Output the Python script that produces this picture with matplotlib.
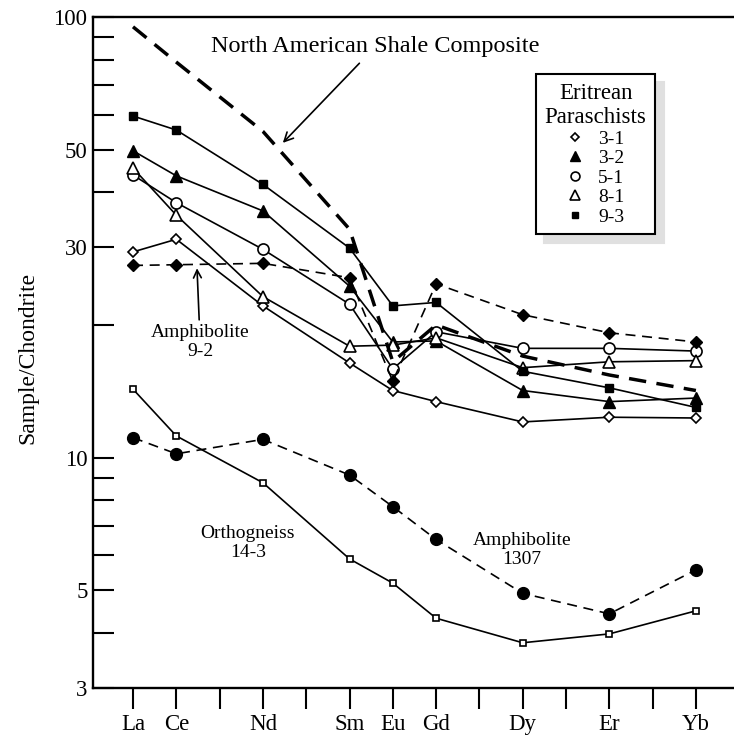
import matplotlib.pyplot as plt
import numpy as np

plt.rcParams['font.family'] = ['Liberation Serif', 'DejaVu Serif']

# REE order (x position = index), labelled ones only get text
elements = ["La", "Ce", "Pr", "Nd", "Pm", "Sm", "Eu", "Gd", "Tb", "Dy", "Ho", "Er", "Tm", "Yb"]
labelled = ["La", "Ce", "Nd", "Sm", "Eu", "Gd", "Dy", "Er", "Yb"]
plotted = ["La", "Ce", "Nd", "Sm", "Eu", "Gd", "Dy", "Er", "Yb"]

# chondrite-normalised values
nasc = [95, 79, 55, 33, 16.5, 20.0, 17.0, 15.4, 14.2]
s3_1 = [29.3, 31.3, 22.1, 16.4, 14.2, 13.4, 12.05, 12.35, 12.3]
s3_2 = [49.7, 43.6, 36.3, 24.5, 18.3, 18.4, 14.2, 13.4, 13.65]
s5_1 = [43.8, 37.9, 29.7, 22.3, 15.9, 19.3, 17.7, 17.7, 17.45]
s8_1 = [45.4, 35.5, 23.2, 17.9, 18.0, 18.7, 16.0, 16.5, 16.6]
s9_3 = [59.6, 55.4, 41.7, 29.9, 22.1, 22.5, 15.7, 14.4, 13.0]
amph_9_2 = [27.3, 27.4, 27.6, 25.6, 14.9, 24.8, 21.1, 19.2, 18.3]
ortho_14_3 = [14.3, 11.2, 8.77, 5.89, 5.19, 4.32, 3.80, 3.98, 4.49]
amph_1307 = [11.1, 10.2, 11.0, 9.13, 7.74, 6.52, 4.92, 4.42, 5.56]

x = np.array([elements.index(e) for e in plotted])

fig = plt.figure(figsize=(7.34, 7.40), dpi=100)
ax = fig.add_axes([93 / 734, 52 / 740, 641 / 734, 671 / 740])

lw = 1.2
# paraschists (legend entries)
ax.plot(x, s3_1, '-', color='black', lw=lw, marker='D', ms=5, mfc='white', mec='black', mew=1.2, label='3-1')
ax.plot(x, s3_2, '-', color='black', lw=lw, marker='^', ms=8.5, mfc='black', mec='black', label='3-2')
ax.plot(x, s5_1, '-', color='black', lw=lw, marker='o', ms=8, mfc='white', mec='black', mew=1.2, label='5-1')
ax.plot(x, s8_1, '-', color='black', lw=lw, marker='^', ms=8.5, mfc='white', mec='black', mew=1.2, label='8-1')
ax.plot(x, s9_3, '-', color='black', lw=lw, marker='s', ms=6, mfc='black', mec='black', label='9-3')

# other samples
ax.plot(x, amph_9_2, color='black', lw=lw, ls=(0, (6, 4)), marker='D', ms=6, mfc='black', mec='black')
ax.plot(x, ortho_14_3, '-', color='black', lw=lw, marker='s', ms=5, mfc='white', mec='black', mew=1.2)
ax.plot(x, amph_1307, color='black', lw=lw, ls=(0, (6, 4)), marker='o', ms=8.5, mfc='black', mec='black')
ax.plot(x, nasc, color='black', lw=2.5, ls=(0, (5, 3)))

ax.set_yscale('log')
ax.set_ylim(3, 100)
ax.set_xlim(-0.924, 13.88)

ax.set_yticks([3, 4, 5, 6, 7, 8, 9, 10, 20, 30, 40, 50, 60, 70, 80, 90, 100])
ax.set_yticklabels(['3', '', '5', '', '', '', '', '10', '', '30', '', '50', '', '', '', '', '100'])
ax.yaxis.set_minor_locator(plt.NullLocator())
ax.tick_params(axis='y', direction='in', length=15, width=1.5, labelsize=16.5, pad=4)

ax.set_xticks(range(len(elements)))
ax.set_xticklabels([e if e in labelled else '' for e in elements])
ax.tick_params(axis='x', direction='out', length=15, width=1.5, labelsize=16.5, pad=4)

for side in ['left', 'top', 'bottom']:
    ax.spines[side].set_linewidth(1.7)
ax.spines['right'].set_visible(False)

fig.text(28 / 734, 1 - 358 / 740, 'Sample/Chondrite', rotation=90, ha='center', va='center', fontsize=17)

ax.annotate('North American Shale Composite', xy=(3.46, 51.8), xytext=(5.59, 85.5),
            ha='center', va='center', fontsize=17.5,
            arrowprops=dict(arrowstyle='->', color='black', lw=1.2, shrinkA=3, shrinkB=0,
                            mutation_scale=16))
ax.annotate('Amphibolite\n9-2', xy=(1.478, 26.9), xytext=(1.55, 18.3),
            ha='center', va='center', fontsize=14, linespacing=1.15,
            arrowprops=dict(arrowstyle='->', color='black', lw=1.2, shrinkA=1, shrinkB=0,
                            mutation_scale=14))
ax.text(2.655, 6.40, 'Orthogneiss\n14-3', ha='center', va='center', fontsize=14, linespacing=1.15)
ax.text(8.98, 6.17, 'Amphibolite\n1307', ha='center', va='center', fontsize=14, linespacing=1.15)

leg = ax.legend(loc='upper left', bbox_to_anchor=((536 - 93) / 641, 1 - (74 - 17) / 671),
                title='Eritrean\nParaschists', title_fontsize=16.5, fontsize=14,
                frameon=True, fancybox=False, edgecolor='black', handlelength=0.8,
                handletextpad=0.8, labelspacing=0.1, borderpad=0.45, borderaxespad=0,
                markerscale=0.8, shadow={'ox': 6, 'oy': -6, 'color': '0.88', 'alpha': 1})
leg.get_frame().set_linewidth(1.5)
for h in leg.legend_handles:
    h.set_linestyle('none')
leg.get_title().set_multialignment('center')

fig.savefig('out.png', dpi=100)
